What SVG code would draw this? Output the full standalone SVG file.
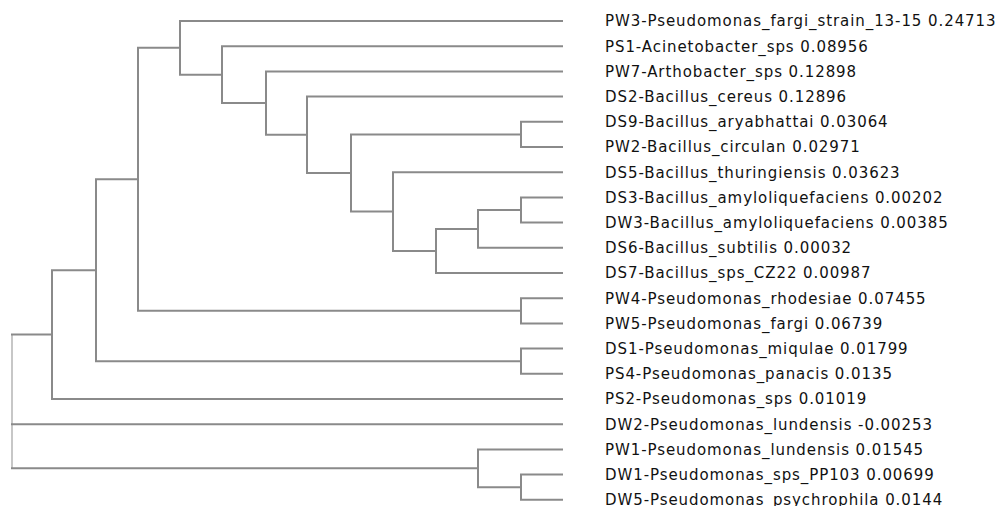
<svg xmlns="http://www.w3.org/2000/svg" width="1003" height="506" viewBox="0 0 1003 506">
<style>
.e{fill:none;stroke:#8a8a8a;stroke-width:2;stroke-linejoin:miter}
.r{fill:none;stroke:#b5b5b5;stroke-width:1.5}
text{font-family:"DejaVu Sans",Verdana,sans-serif;font-size:15px;letter-spacing:0.92px;fill:#111}
</style>
<rect width="1003" height="506" fill="#fff"/>
<g id="connectors">
<path class="e" d="M563 121.8H521V147H563"/>
<path class="e" d="M563 197.4H521V222.6H563"/>
<path class="e" d="M521 210H478V247.8H563"/>
<path class="e" d="M478 228.9H436V273H563"/>
<path class="e" d="M563 172.2H393V250.95H436"/>
<path class="e" d="M521 134.4H351V211.6H393"/>
<path class="e" d="M563 96.6H307V173H351"/>
<path class="e" d="M563 71.4H266V134.8H307"/>
<path class="e" d="M563 46.2H222V103.1H266"/>
<path class="e" d="M563 21H180V74.65H222"/>
<path class="e" d="M563 298.2H521V323.4H563"/>
<path class="e" d="M180 47.8H138V310.8H521"/>
<path class="e" d="M563 348.6H521V373.8H563"/>
<path class="e" d="M138 179.3H96V361.2H521"/>
<path class="e" d="M96 270.25H52V399H563"/>
<path class="e" d="M563 474.6H521V499.8H563"/>
<path class="e" d="M563 449.4H478V487.2H521"/>
<path class="r" d="M12 334.6V468.3"/>
<path class="e" d="M52 334.6H11"/>
<path class="e" d="M11 424.2H563"/>
<path class="e" d="M11 468.3H478"/>
</g>
<g id="leaf-PW3"><text x="605" y="26.4">PW3-Pseudomonas_fargi_strain_13-15 0.24713</text></g>
<g id="leaf-PS1"><text x="605" y="51.6">PS1-Acinetobacter_sps 0.08956</text></g>
<g id="leaf-PW7"><text x="605" y="76.8">PW7-Arthobacter_sps 0.12898</text></g>
<g id="leaf-DS2"><text x="605" y="102">DS2-Bacillus_cereus 0.12896</text></g>
<g id="leaf-DS9"><text x="605" y="127.2">DS9-Bacillus_aryabhattai 0.03064</text></g>
<g id="leaf-PW2"><text x="605" y="152.4">PW2-Bacillus_circulan 0.02971</text></g>
<g id="leaf-DS5"><text x="605" y="177.6">DS5-Bacillus_thuringiensis 0.03623</text></g>
<g id="leaf-DS3"><text x="605" y="202.8">DS3-Bacillus_amyloliquefaciens 0.00202</text></g>
<g id="leaf-DW3"><text x="605" y="228">DW3-Bacillus_amyloliquefaciens 0.00385</text></g>
<g id="leaf-DS6"><text x="605" y="253.2">DS6-Bacillus_subtilis 0.00032</text></g>
<g id="leaf-DS7"><text x="605" y="278.4">DS7-Bacillus_sps_CZ22 0.00987</text></g>
<g id="leaf-PW4"><text x="605" y="303.6">PW4-Pseudomonas_rhodesiae 0.07455</text></g>
<g id="leaf-PW5"><text x="605" y="328.8">PW5-Pseudomonas_fargi 0.06739</text></g>
<g id="leaf-DS1"><text x="605" y="354">DS1-Pseudomonas_miqulae 0.01799</text></g>
<g id="leaf-PS4"><text x="605" y="379.2">PS4-Pseudomonas_panacis 0.0135</text></g>
<g id="leaf-PS2"><text x="605" y="404.4">PS2-Pseudomonas_sps 0.01019</text></g>
<g id="leaf-DW2"><text x="605" y="429.6">DW2-Pseudomonas_lundensis -0.00253</text></g>
<g id="leaf-PW1"><text x="605" y="454.8">PW1-Pseudomonas_lundensis 0.01545</text></g>
<g id="leaf-DW1"><text x="605" y="480">DW1-Pseudomonas_sps_PP103 0.00699</text></g>
<g id="leaf-DW5"><text x="605" y="505.2">DW5-Pseudomonas_psychrophila 0.0144</text></g>
</svg>
